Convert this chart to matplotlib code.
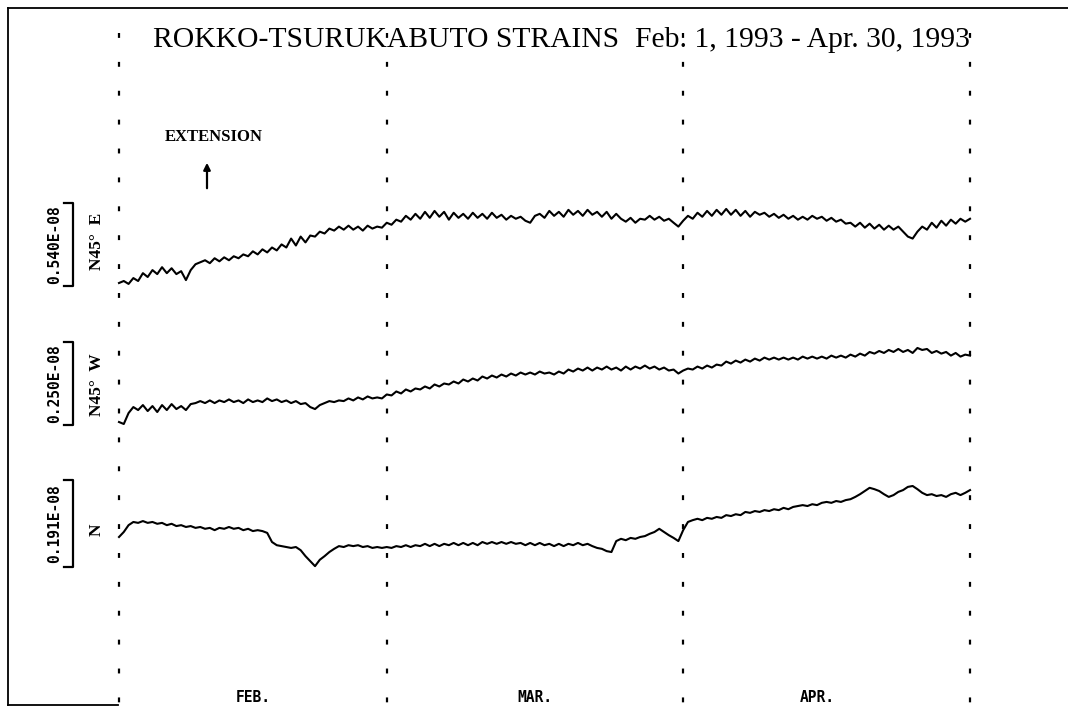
import matplotlib
matplotlib.use("Agg")
import matplotlib.pyplot as plt
import numpy as np

W, H = 1068, 709
DPI = 100

# ---- data: strain change (nanostrain) relative to Feb 1, read every half day ----
days = np.arange(0, 89.01, 0.5)   # days since Feb 1, 1993

ne_vals = [0.00, 0.13, -0.06, 0.32, 0.13, 0.64, 0.39, 0.84, 0.58, 1.03,
           0.64, 0.96, 0.58, 0.77, 0.19, 0.84, 1.22, 1.35, 1.48, 1.29,
           1.61, 1.41, 1.67, 1.48, 1.74, 1.61, 1.86, 1.74, 2.06, 1.86,
           2.19, 1.99, 2.31, 2.12, 2.51, 2.31, 2.89, 2.44, 3.02, 2.64,
           3.09, 3.02, 3.34, 3.22, 3.54, 3.41, 3.67, 3.47, 3.73, 3.47,
           3.67, 3.41, 3.73, 3.54, 3.67, 3.60, 3.92, 3.79, 4.12, 3.99,
           4.37, 4.12, 4.50, 4.18, 4.63, 4.24, 4.69, 4.31, 4.63, 4.12,
           4.57, 4.24, 4.50, 4.18, 4.57, 4.24, 4.50, 4.18, 4.57, 4.24,
           4.44, 4.12, 4.37, 4.18, 4.31, 4.05, 3.92, 4.37, 4.50, 4.24,
           4.69, 4.37, 4.63, 4.31, 4.76, 4.44, 4.69, 4.37, 4.76, 4.44,
           4.63, 4.31, 4.63, 4.18, 4.50, 4.18, 3.99, 4.24, 3.92, 4.18,
           4.12, 4.37, 4.12, 4.31, 4.05, 4.18, 3.92, 3.67, 4.05, 4.37,
           4.18, 4.57, 4.31, 4.69, 4.37, 4.76, 4.44, 4.82, 4.44, 4.76,
           4.37, 4.69, 4.31, 4.63, 4.44, 4.57, 4.31, 4.50, 4.24, 4.44,
           4.18, 4.37, 4.12, 4.31, 4.12, 4.37, 4.18, 4.31, 4.05, 4.24,
           3.99, 4.12, 3.86, 3.92, 3.67, 3.92, 3.60, 3.86, 3.54, 3.79,
           3.47, 3.73, 3.47, 3.67, 3.34, 3.02, 2.89, 3.34, 3.67, 3.47,
           3.92, 3.60, 4.05, 3.73, 4.12, 3.86, 4.18, 3.99, 4.18]

nw_vals = [0.03, -0.03, 0.30, 0.48, 0.39, 0.54, 0.36, 0.51, 0.33, 0.54,
           0.39, 0.57, 0.42, 0.51, 0.39, 0.57, 0.60, 0.66, 0.60, 0.68,
           0.60, 0.68, 0.63, 0.71, 0.63, 0.68, 0.60, 0.71, 0.63, 0.68,
           0.63, 0.74, 0.66, 0.71, 0.63, 0.68, 0.60, 0.66, 0.57, 0.60,
           0.48, 0.42, 0.54, 0.60, 0.66, 0.63, 0.68, 0.66, 0.74, 0.68,
           0.77, 0.71, 0.80, 0.74, 0.77, 0.74, 0.86, 0.83, 0.95, 0.89,
           1.01, 0.95, 1.04, 1.01, 1.10, 1.04, 1.16, 1.10, 1.19, 1.16,
           1.25, 1.19, 1.31, 1.25, 1.34, 1.28, 1.40, 1.34, 1.43, 1.37,
           1.46, 1.40, 1.49, 1.43, 1.52, 1.46, 1.52, 1.46, 1.55, 1.49,
           1.52, 1.46, 1.55, 1.49, 1.61, 1.55, 1.64, 1.58, 1.67, 1.58,
           1.67, 1.61, 1.70, 1.61, 1.67, 1.58, 1.70, 1.61, 1.70, 1.64,
           1.73, 1.64, 1.70, 1.61, 1.67, 1.58, 1.61, 1.49, 1.58, 1.64,
           1.61, 1.70, 1.64, 1.73, 1.67, 1.76, 1.73, 1.85, 1.79, 1.88,
           1.82, 1.91, 1.85, 1.94, 1.88, 1.97, 1.91, 1.97, 1.91, 1.97,
           1.91, 1.97, 1.91, 2.00, 1.94, 2.00, 1.94, 2.00, 1.94, 2.03,
           1.97, 2.03, 1.97, 2.06, 2.00, 2.09, 2.03, 2.14, 2.09, 2.17,
           2.11, 2.20, 2.14, 2.23, 2.14, 2.20, 2.11, 2.26, 2.20, 2.23,
           2.11, 2.17, 2.09, 2.14, 2.03, 2.11, 2.00, 2.06, 2.03]

n_vals = [0.00, 0.11, 0.26, 0.33, 0.31, 0.35, 0.31, 0.33, 0.29, 0.31,
          0.26, 0.29, 0.24, 0.26, 0.22, 0.24, 0.20, 0.22, 0.18, 0.20,
          0.15, 0.20, 0.18, 0.22, 0.18, 0.20, 0.15, 0.18, 0.13, 0.15,
          0.13, 0.09, -0.11, -0.18, -0.20, -0.22, -0.24, -0.22, -0.29, -0.42,
          -0.53, -0.64, -0.50, -0.42, -0.33, -0.26, -0.20, -0.22, -0.18, -0.20,
          -0.18, -0.22, -0.20, -0.24, -0.22, -0.24, -0.22, -0.24, -0.20, -0.22,
          -0.18, -0.22, -0.18, -0.20, -0.15, -0.20, -0.15, -0.20, -0.15, -0.18,
          -0.13, -0.18, -0.13, -0.18, -0.13, -0.18, -0.11, -0.15, -0.11, -0.15,
          -0.11, -0.15, -0.11, -0.15, -0.13, -0.18, -0.13, -0.18, -0.13, -0.18,
          -0.15, -0.20, -0.15, -0.20, -0.15, -0.18, -0.13, -0.18, -0.15, -0.20,
          -0.24, -0.26, -0.31, -0.33, -0.09, -0.04, -0.07, -0.02, -0.04, 0.00,
          0.02, 0.07, 0.11, 0.18, 0.11, 0.04, -0.02, -0.09, 0.15, 0.33,
          0.37, 0.40, 0.37, 0.42, 0.40, 0.44, 0.42, 0.48, 0.46, 0.50,
          0.48, 0.55, 0.53, 0.57, 0.55, 0.59, 0.57, 0.61, 0.59, 0.64,
          0.61, 0.66, 0.68, 0.70, 0.68, 0.72, 0.70, 0.75, 0.77, 0.75,
          0.79, 0.77, 0.81, 0.83, 0.88, 0.94, 1.01, 1.08, 1.05, 1.01,
          0.94, 0.88, 0.92, 0.99, 1.03, 1.10, 1.12, 1.05, 0.97, 0.92,
          0.94, 0.90, 0.92, 0.88, 0.94, 0.97, 0.92, 0.97, 1.03]

month_days = [0, 28, 59, 89]
month_labels = ["FEB.", "MAR.", "APR."]
month_label_days = [14, 43.5, 73]

scales_nstrain = [5.40, 2.50, 1.91]
scale_labels = ["0.540E-08", "0.250E-08", "0.191E-08"]
comp_labels = ["N45°  E", "N45°  W", "N"]

# ---- layout ----
PX_PER_DAY = 9.562
X0_PX = 119.0
DAY_LEFT = -X0_PX / PX_PER_DAY
DAY_RIGHT = (W - X0_PX) / PX_PER_DAY

fig = plt.figure(figsize=(W / DPI, H / DPI), dpi=DPI)
fig.patch.set_facecolor("white")

bg = fig.add_axes([0, 0, 1, 1])
bg.set_xlim(0, W)
bg.set_ylim(H, 0)
bg.axis("off")

dax = fig.add_axes([0, 0, 1, 1])
dax.set_xlim(DAY_LEFT, DAY_RIGHT)
dax.set_ylim(H, 0)
dax.axis("off")
dax.patch.set_alpha(0)
for d in month_days:
    dax.plot([d, d], [33, 706], color="black", lw=1.6,
             linestyle=(0, (2.2, 10.8)), solid_capstyle="butt")

bg.plot([8, W], [8, 8], color="black", lw=1.3)
bg.plot([8, 8], [8, 705], color="black", lw=1.3)
bg.plot([8, 118], [705, 705], color="black", lw=1.3)

panels = [(203, 286, 283), (342, 425, 423), (480, 567, 537)]
series = [ne_vals, nw_vals, n_vals]
label_y = [241, 385, 530]

for (top, bot, base), vv, sc, sl, cl, ly in zip(panels, series, scales_nstrain,
                                               scale_labels, comp_labels, label_y):
    a_top, a_bot = top - 80, bot + 40
    ax = fig.add_axes([0, (H - a_bot) / H, 1, (a_bot - a_top) / H])
    ax.axis("off")
    ax.patch.set_alpha(0)
    u = sc / (bot - top)
    ax.set_xlim(DAY_LEFT, DAY_RIGHT)
    ax.set_ylim(-(a_bot - base) * u, (base - a_top) * u)
    ax.plot(days, vv, color="black", lw=1.5, solid_joinstyle="round")
    bg.plot([64, 73, 73, 64], [top, top, bot, bot], color="black", lw=1.6)
    bg.text(55, (top + bot) / 2, sl, rotation=90, ha="center", va="center",
            family="DejaVu Sans Mono", fontweight="bold", fontsize=10.5)
    bg.text(97, ly, cl, rotation=90, ha="center", va="center",
            family="Liberation Serif", fontweight="bold", fontsize=12.5)

# title
bg.text(153, 47, "ROKKO-TSURUKABUTO STRAINS", ha="left", va="baseline",
        family="Liberation Serif", fontsize=21.3)
bg.text(970, 47, "Feb. 1, 1993 - Apr. 30, 1993", ha="right", va="baseline",
        family="Liberation Serif", fontsize=21.3)

bg.text(214, 137, "EXTENSION", ha="center", va="center",
        family="Liberation Serif", fontweight="bold", fontsize=12)
bg.annotate("", xy=(207, 160), xytext=(207, 191),
            arrowprops=dict(arrowstyle="-|>", color="black", lw=1.6,
                            mutation_scale=10))

for d, lab in zip(month_label_days, month_labels):
    dax.text(d, 697, lab, ha="center", va="center", family="DejaVu Sans Mono",
             fontweight="bold", fontsize=10.5)

fig.savefig("out.png", dpi=DPI, facecolor="white")
